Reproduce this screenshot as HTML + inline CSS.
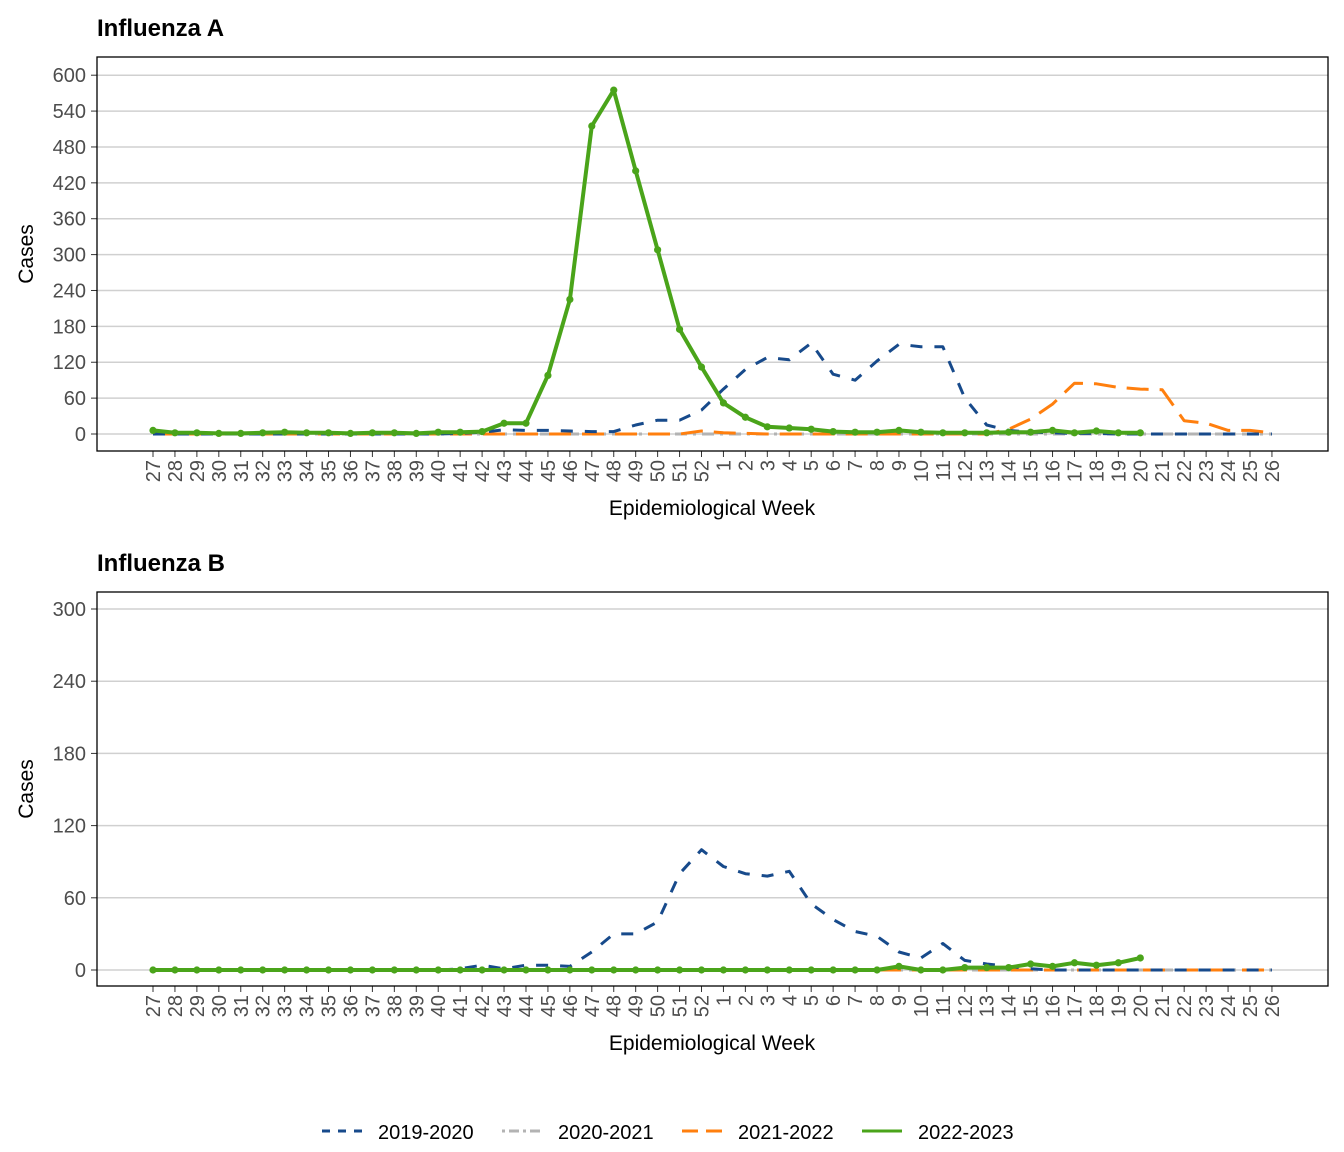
<!DOCTYPE html>
<html><head><meta charset="utf-8"><style>body{margin:0;background:#fff}svg{display:block}text{font-family:"Liberation Sans",Arial,sans-serif}</style></head>
<body>
<svg id="s" width="1344" height="1152" xmlns="http://www.w3.org/2000/svg"></svg>
<script>
const S=document.getElementById('s');let h='';
const weeks=[];for(let w=27;w<=52;w++)weeks.push(w);for(let w=1;w<=26;w++)weeks.push(w);
const X=i=>153+21.94*i;
function panel(title,top,y0,ppu,ymax,step,series){
  const pt=top, pb=top+394;
  h+=`<text x="97" y="${top-21}" font-size="24" font-weight="bold">${title}</text>`;
  for(let v=0;v<=ymax;v+=step){const y=y0-v*ppu;
    h+=`<line x1="97" x2="1328" y1="${y}" y2="${y}" stroke="#d0d0d0" stroke-width="1.5"/>`;
    h+=`<line x1="91" x2="97" y1="${y}" y2="${y}" stroke="#333" stroke-width="1"/>`;
    h+=`<text x="86" y="${y+7}" font-size="20" fill="#4d4d4d" text-anchor="end">${v}</text>`;}
  weeks.forEach((w,i)=>{const x=X(i);
    h+=`<line x1="${x}" x2="${x}" y1="${pb}" y2="${pb+6}" stroke="#333"/>`;
    h+=`<text transform="translate(${x+7},${pb+9}) rotate(-90)" font-size="20" fill="#4d4d4d" text-anchor="end">${w}</text>`;});
  series.forEach(s=>{const pts=s.d.map((v,i)=>X(i).toFixed(1)+','+(y0-v*ppu).toFixed(1)).join(' ');
    h+=`<polyline points="${pts}" fill="none" stroke="${s.c}" stroke-width="${s.w}" ${s.da?'stroke-dasharray="'+s.da+'"':''} stroke-linejoin="round"/>`;
    if(s.p)s.d.forEach((v,i)=>{h+=`<circle cx="${X(i)}" cy="${y0-v*ppu}" r="3.6" fill="${s.c}"/>`});});
  h+=`<rect x="97" y="${pt}" width="1231" height="394" fill="none" stroke="#000" stroke-width="1.3"/>`;
  h+=`<text x="712" y="${pb+64}" font-size="21" text-anchor="middle">Epidemiological Week</text>`;
  h+=`<text transform="translate(33,${(pt+pb)/2}) rotate(-90)" font-size="21" text-anchor="middle">Cases</text>`;
}
const z=n=>Array(n).fill(0);
const gA=[6,2,2,1,1,2,3,2,2,1,2,2,1,3,3,4,18,18,98,225,515,575,440,308,175,112,52,28,12,10,8,4,3,3,6,3,2,2,2,3,3,6,2,5,2,2];
const bA=[0,0,0,0,0,0,0,0,0,0,0,0,0,0,1,3,7,6,6,5,4,4,15,23,23,40,75,108,128,124,152,100,90,122,150,146,146,60,15,6,3,2,1,1,0,0,0,0,0,0,0,0];
const oA=[...z(25),5,2,1,0,0,0,0,0,0,0,0,0,0,0,8,25,50,85,84,78,75,74,22,18,6,6,2];
const gB=[...z(34),3,0,0,2,2,2,5,3,6,4,6,10];
const bB=[0,0,0,0,0,0,0,0,0,0,0,0,0,0,1,4,1,4,4,3,15,30,30,40,80,100,86,80,78,82,55,42,32,28,15,10,22,8,5,3,1,0,0,0,0,0,0,0,0,0,0,0];
const grey={d:z(52),c:"#b3b3b3",w:3,da:"3,6,12,6"};
panel("Influenza A",57,434,0.598,600,60,[grey,{d:oA,c:"#ff7f0e",w:3,da:"22,11"},{d:bA,c:"#174a8b",w:3,da:"12,12"},{d:gA,c:"#4aa41a",w:4,p:1}]);
panel("Influenza B",592,970,1.2033,300,60,[grey,{d:z(52),c:"#ff7f0e",w:3,da:"22,11"},{d:bB,c:"#174a8b",w:3,da:"12,12"},{d:gB,c:"#4aa41a",w:4,p:1}]);
const L=[["2019-2020","#174a8b","8,8",3],["2020-2021","#b3b3b3","3,4,10,4",3],["2021-2022","#ff7f0e","16,8",3],["2022-2023","#4aa41a","",3]];
L.forEach((l,i)=>{const x=322+180*i;h+=`<line x1="${x}" x2="${x+40}" y1="1131" y2="1131" stroke="${l[1]}" stroke-width="${l[3]}" ${l[2]?'stroke-dasharray="'+l[2]+'"':''}/>`;
h+=`<text x="${x+56}" y="1139" font-size="20">${l[0]}</text>`;});
S.innerHTML=h;
</script>
</body></html>
